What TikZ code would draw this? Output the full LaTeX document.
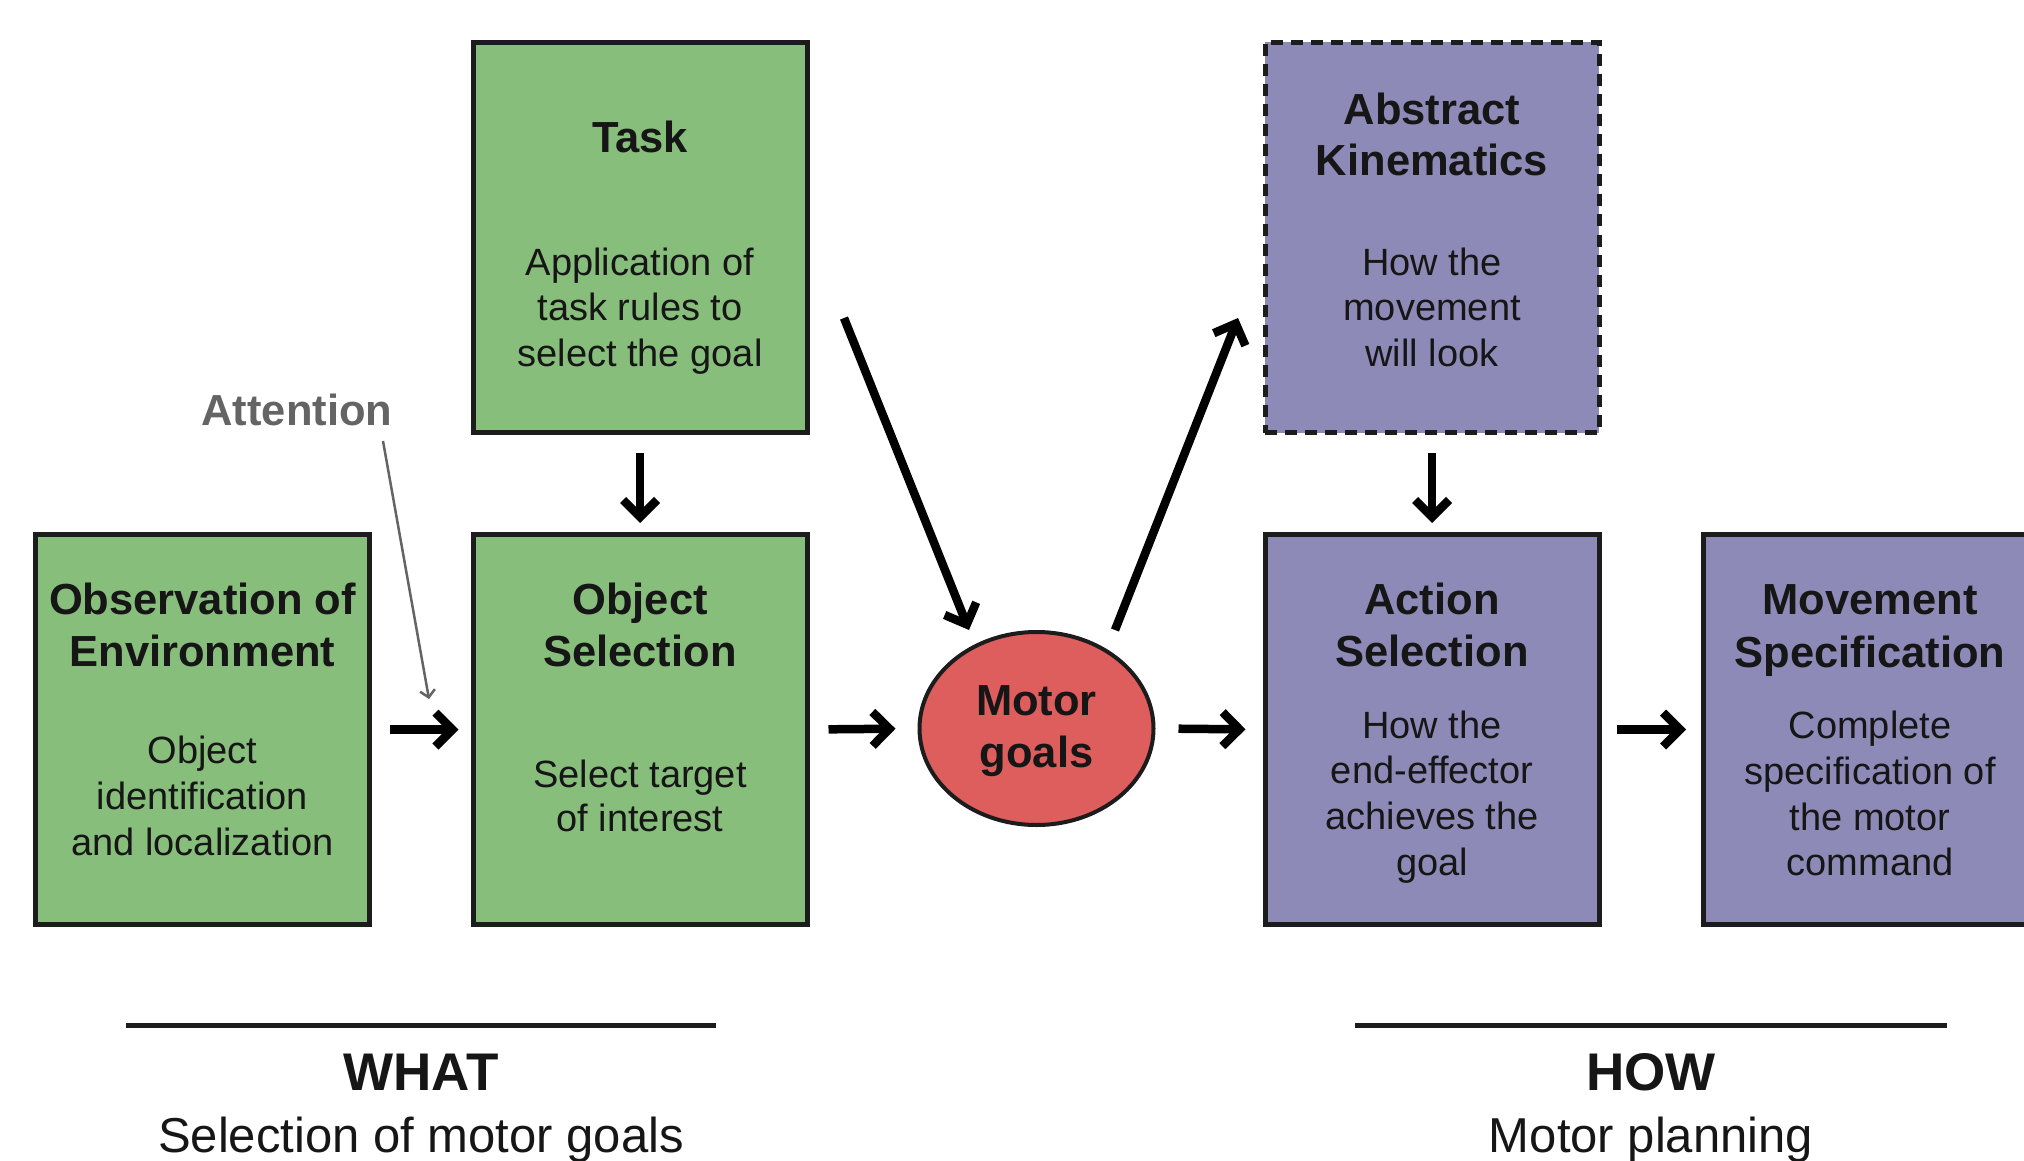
\documentclass[tikz,border=0pt]{standalone}
\usepackage{fontspec}
\setmainfont{Liberation Sans}
\usetikzlibrary{arrows.meta,shapes.geometric}
\definecolor{boxgreen}{RGB}{135,190,123}
\definecolor{boxpurple}{RGB}{141,138,184}
\definecolor{goalred}{RGB}{222,94,94}
\definecolor{edgecol}{RGB}{28,28,28}
\definecolor{ink}{RGB}{22,22,22}
\definecolor{attgray}{RGB}{100,100,100}
\tikzset{
  box/.style={draw=edgecol, line width=5pt, minimum width=334pt, minimum height=390pt, inner sep=0pt},
  gbox/.style={box, fill=boxgreen},
  pbox/.style={box, fill=boxpurple},
  dashbox/.style={dash pattern=on 12pt off 8pt},
  goal/.style={ellipse, draw=edgecol, line width=4pt, fill=goalred, minimum width=234pt, minimum height=193pt, inner sep=0pt},
  ttl/.style={anchor=base, inner sep=0pt, text=ink, font=\fontsize{43.5}{52}\selectfont\bfseries},
  bdy/.style={anchor=base, inner sep=0pt, text=ink, font=\fontsize{38}{45.5}\selectfont},
  arr/.style={draw=black, line width=8.5pt, -{Straight Barb[length=17pt,width=34pt]}},
  attarr/.style={draw=attgray, line width=2.5pt, -{Straight Barb[length=7pt,width=15pt]}},
  rulel/.style={draw=edgecol, line width=5pt},
  bighead/.style={anchor=base, inner sep=0pt, text=ink, font=\fontsize{53}{60}\selectfont\bfseries},
  subhead/.style={anchor=base, inner sep=0pt, text=ink, font=\fontsize{49}{56}\selectfont},
}
\begin{document}
\begin{tikzpicture}[x=1pt,y=-1pt]
\clip (0,0) rectangle (2024,1161);
\fill[white] (0,0) rectangle (2024,1161);

% boxes
\node[gbox] (obs) at (202.5,729.5) {};
\node[gbox] (objsel) at (640,729.5) {};
\node[gbox] (task) at (640,237.5) {};
\node[pbox,dashbox] (abskin) at (1432,237.5) {};
\node[pbox] (actsel) at (1432,729.5) {};
\node[pbox] (movspec) at (1870.5,729.5) {};
\node[goal] (goals) at (1036.5,728.5) {};

% texts
\node[ttl] (obsT1) at (202.5,614) {Observation of};
\node[ttl] (obsT2) at (202.5,666) {Environment};
\node[bdy] (obsB1) at (202.5,763) {Object};
\node[bdy] (obsB2) at (202.5,809) {identification};
\node[bdy] (obsB3) at (202.5,855) {and localization};

\node[ttl] (selT1) at (640,614) {Object};
\node[ttl] (selT2) at (640,666) {Selection};
\node[bdy] (selB1) at (640,787) {Select target};
\node[bdy] (selB2) at (640,831) {of interest};

\node[ttl] (taskT1) at (640,153) {Task};
\node[bdy] (taskB1) at (640,275) {Application of};
\node[bdy] (taskB2) at (640,320) {task rules to};
\node[bdy] (taskB3) at (640,366) {select the goal};

\node[ttl] (akT1) at (1432,125) {Abstract};
\node[ttl] (akT2) at (1432,176) {Kinematics};
\node[bdy] (akB1) at (1432,275) {How the};
\node[bdy] (akB2) at (1432,320) {movement};
\node[bdy] (akB3) at (1432,366) {will look};

\node[ttl] (asT1) at (1432,614) {Action};
\node[ttl] (asT2) at (1432,666) {Selection};
\node[bdy] (asB1) at (1432,738) {How the};
\node[bdy] (asB2) at (1432,783) {end-effector};
\node[bdy] (asB3) at (1432,829) {achieves the};
\node[bdy] (asB4) at (1432,875) {goal};

\node[ttl] (msT1) at (1870,614) {Movement};
\node[ttl] (msT2) at (1870,667) {Specification};
\node[bdy] (msB1) at (1870,738) {Complete};
\node[bdy] (msB2) at (1870,784) {specification of};
\node[bdy] (msB3) at (1870,830) {the motor};
\node[bdy] (msB4) at (1870,875) {command};

\node[ttl] (mgT1) at (1036.5,715) {Motor};
\node[ttl] (mgT2) at (1036.5,767) {goals};

\node[ttl, text=attgray] (attn) at (297,425) {Attention};

% connectors
\draw[arr, shorten <=18pt, shorten >=12pt] (obs.east) -- (objsel.west);
\draw[arr, shorten <=19pt, shorten >=22pt] (objsel.east) -- (goals.west);
\draw[arr, shorten <=23pt, shorten >=17pt] (goals.east) -- (actsel.west);
\draw[arr, shorten <=15pt, shorten >=15pt] (actsel.east) -- (movspec.west);
\draw[arr, shorten <=18pt, shorten >=9pt] (task.south) -- (objsel.north);
\draw[arr, shorten <=18pt, shorten >=9pt] (abskin.south) -- (actsel.north);

\coordinate (tkS) at (844,318);
\coordinate (gIn) at (969,630);
\coordinate (gOut) at (1115,630);
\coordinate (akE) at (1238,318);
\draw[arr] (tkS) -- (gIn);
\draw[arr] (gOut) -- (akE);

\coordinate (attS) at (383,441);
\coordinate (attE) at (429,699);
\draw[attarr] (attS) -- (attE);

% bottom captions
\coordinate (whatL) at (126,1025);
\coordinate (whatR) at (716,1025);
\coordinate (howL) at (1355,1025);
\coordinate (howR) at (1947,1025);
\draw[rulel] (whatL) -- (whatR);
\draw[rulel] (howL) -- (howR);
\node[bighead] (what) at (421,1090) {WHAT};
\node[subhead] (whatsub) at (421,1152) {Selection of motor goals};
\node[bighead] (how) at (1651,1090) {HOW};
\node[subhead] (howsub) at (1651,1152) {Motor planning};
\end{tikzpicture}
\end{document}
